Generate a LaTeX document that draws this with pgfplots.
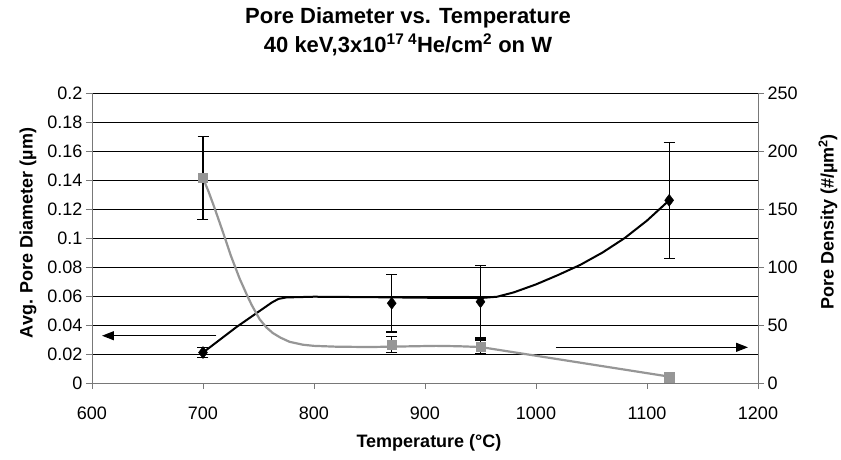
\documentclass[border=0pt]{standalone}
\usepackage{pgfplots}
\pgfplotsset{compat=1.18}
\usepackage{fontspec}
\setmainfont{Liberation Sans}
\usetikzlibrary{arrows.meta}
\definecolor{grayser}{RGB}{150,150,150}
\definecolor{axgray}{RGB}{120,120,120}
\begin{document}
\begin{tikzpicture}[x=1pt,y=1pt]
\useasboundingbox (-92pt,-77pt) rectangle (749pt,383pt);
\begin{axis}[
  at={(0,0)}, anchor=south west,
  scale only axis, width=666pt, height=290pt,
  xmin=600, xmax=1200, ymin=0, ymax=0.2,
  xtick={600,700,...,1200},
  ytick={0,0.02,...,0.2},
  axis x line*=bottom, axis y line*=left,
  axis line style={axgray, line width=0.8pt, -},
  tick align=outside, major tick length=6pt,
  tick style={axgray, line width=0.8pt},
  ymajorgrids, grid style={black, line width=0.7pt},
  scaled y ticks=false,
  yticklabel style={/pgf/number format/fixed, /pgf/number format/precision=2},
  xticklabel style={/pgf/number format/1000 sep={}, yshift=-14pt},
  /pgf/number format/assume math mode=true,
  tick label style={font=\fontsize{18}{20}\selectfont},
  clip=false,
]
\addplot[black, line width=2pt, line join=round] coordinates {
 (700,0.021) (730,0.0385) (762,0.0555) (768,0.0580) (775,0.0590) (800,0.0595) (850,0.0592) (900,0.0588) (950,0.0586) (965,0.0595) (980,0.0625) (1000,0.0680) (1020,0.0745) (1040,0.0815) (1060,0.0900) (1080,0.1000) (1100,0.1120) (1120,0.1260)};
\addplot[only marks, mark=diamond*, mark size=6pt, black,
  error bars/.cd, y dir=both, y explicit,
  error bar style={line width=1.2pt, black},
  error mark options={rotate=90, mark size=5.5pt, line width=1.2pt, black}]
  coordinates {(700,0.021) +- (0,0.0035) (870,0.055) +- (0,0.0198) (950,0.056) +- (0,0.025) (1120,0.126) +- (0,0.040)};
\draw[line width=1.2pt, -{Triangle[length=12pt,width=9pt]}] (axis cs:712,0.0326) -- (axis cs:609,0.0326);
\draw[line width=1.2pt, -{Triangle[length=12pt,width=9pt]}] (axis cs:1018,0.0246) -- (axis cs:1191,0.0246);
\end{axis}
\begin{axis}[
  at={(0,0)}, anchor=south west,
  scale only axis, width=666pt, height=290pt,
  xmin=600, xmax=1200, ymin=0, ymax=250,
  ytick={0,50,...,250},
  axis y line*=right, axis x line=none,
  axis line style={axgray, line width=0.8pt, -},
  tick align=outside, major tick length=6pt,
  tick style={axgray, line width=0.8pt},
  /pgf/number format/assume math mode=true,
  tick label style={font=\fontsize{18}{20}\selectfont},
  clip=false,
]
\addplot[grayser, line width=2.2pt, line join=round] coordinates {
 (700,176.7) (705,165) (710,152) (718,130) (725,110) (733,90) (740,75) (744,67) (751,55) (757,48) (763,43) (770,39) (778,35.5) (790,33) (800,32) (820,31.3) (850,31) (880,31.5) (910,32) (930,31.7) (950,31)};
\addplot[grayser, line width=2.2pt] coordinates {(950,31) (1120,5.5)};
\addplot[only marks, mark=square*, mark size=4.6pt, grayser, mark options={grayser},
  error bars/.cd, y dir=both, y explicit,
  error bar style={line width=1.2pt, black},
  error mark options={rotate=90, mark size=5.5pt, line width=1.2pt, black}]
  coordinates {(700,176.7) +- (0,35.5) (870,33) +- (0,7) (950,31) +- (0,6) (1120,5) +- (0,1.5)};
\end{axis}
\node[font=\bfseries\fontsize{22}{24}\selectfont] at (316pt,365pt) {Pore Diameter vs. Temperature};
\node[font=\bfseries\fontsize{22}{24}\selectfont] at (316pt,338pt) {40 keV,3x10\textsuperscript{17}\,\textsuperscript{4}He/cm\textsuperscript{2} on W};
\node[font=\bfseries\fontsize{18}{20}\selectfont] at (337pt,-60pt) {Temperature (°C)};
\node[font=\bfseries\fontsize{18}{20}\selectfont, rotate=90] at (-64pt,150pt) {Avg. Pore Diameter (µm)};
\node[font=\bfseries\fontsize{18}{20}\selectfont, rotate=90] at (736pt,161pt) {Pore Density (\#/µm\textsuperscript{2})};
\end{tikzpicture}
\end{document}
